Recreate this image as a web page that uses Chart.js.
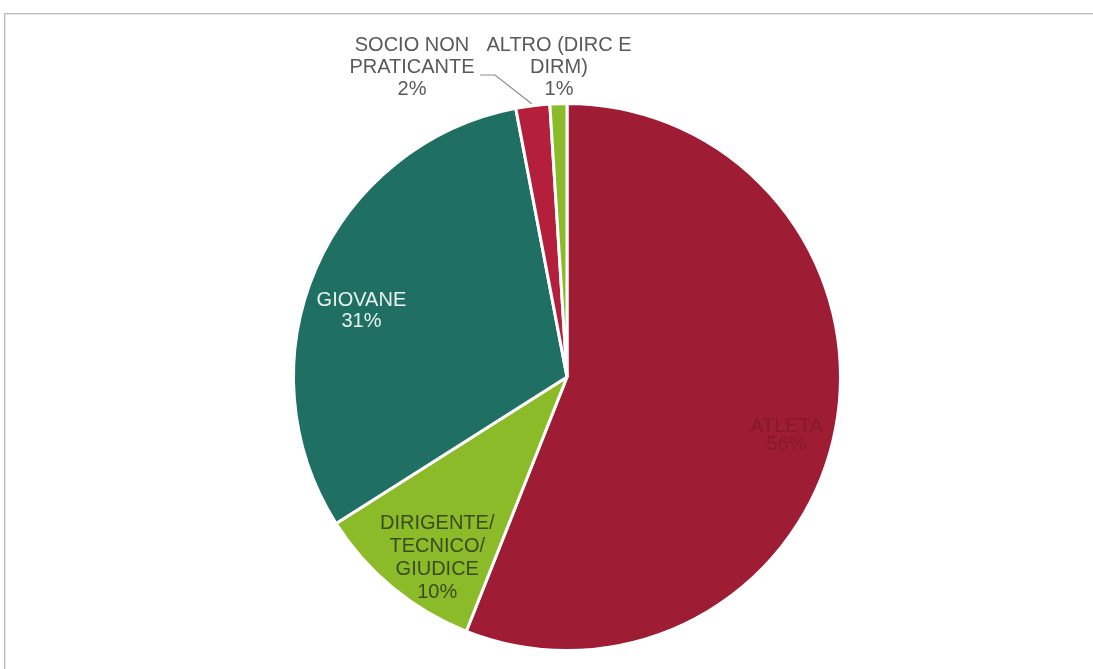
<!DOCTYPE html>
<html>
<head>
<meta charset="utf-8">
<script src="https://cdn.jsdelivr.net/npm/chart.js@4.4.0/dist/chart.umd.min.js"></script>
<style>
    html, body { margin: 0; padding: 0; background: #fff; }
    #wrap { position: relative; width: 1093px; height: 669px; }
    #frame {
        position: absolute; left: 4px; top: 13px; right: -2px; bottom: -2px;
        border: 1px solid #bdbdbd; border-right: none; border-bottom: none;
        box-shadow: inset 1px 1px 0 #e4e4e4;
    }
    canvas { position: absolute; left: 0; top: 0; }
</style>
</head>
<body>
<div id="wrap">
    <div id="frame"></div>
    <canvas id="chart" width="1093" height="669"></canvas>
</div>
<script>
// Dati del grafico
const categorie = ['ATLETA', 'DIRIGENTE/ TECNICO/ GIUDICE', 'GIOVANE', 'SOCIO NON PRATICANTE', 'ALTRO (DIRC E DIRM)'];
const percentuali = [56, 10, 31, 2, 1];
const righeEtichette = [
    ['ATLETA', '56%'],
    ['DIRIGENTE/', 'TECNICO/', 'GIUDICE', '10%'],
    ['GIOVANE', '31%'],
    ['SOCIO NON', 'PRATICANTE', '2%'],
    ['ALTRO (DIRC E', 'DIRM)', '1%']
];

const colori = ['#9e1c34', '#8cbb2a', '#1f6f63', '#b41f3c', '#8cbb2a'];

// come disegnare ogni etichetta: dentro (angolo/raggio) o fuori (offset dal centro)
const stileEtichette = [
    { dentro: true, dAng: 4, fr: 0.83, lh: 18, colore: '#861a2d' },
    { dentro: true, dAng: -4, fr: 0.815, lh: 23, colore: '#3c4a1c' },
    { dentro: true, dAng: -5.5, fr: 0.79, lh: 21, colore: '#e9f2ef' },
    { dentro: false, dx: -155, dy: -310, lh: 22, colore: '#595959' },
    { dentro: false, dx: -8, dy: -310, lh: 22, colore: '#595959' }
];

const etichettePlugin = {
    id: 'etichette',
    afterDatasetsDraw(chart) {
        const ctx = chart.ctx;
        const meta = chart.getDatasetMeta(0);
        ctx.save();
        ctx.font = '20px "Liberation Sans", Arial, sans-serif';
        ctx.textAlign = 'center';
        ctx.textBaseline = 'middle';
        meta.data.forEach((arc, i) => {
            const p = arc.getProps(['x', 'y', 'startAngle', 'endAngle', 'outerRadius'], true);
            const st = stileEtichette[i];
            const righe = righeEtichette[i];
            let cx, cy;
            if (st.dentro) {
                const mid = (p.startAngle + p.endAngle) / 2 + st.dAng * Math.PI / 180;
                const r = p.outerRadius * st.fr;
                cx = p.x + Math.cos(mid) * r;
                cy = p.y + Math.sin(mid) * r;
            } else {
                cx = p.x + st.dx;
                cy = p.y + st.dy;
            }
            ctx.fillStyle = st.colore;
            const y0 = cy - (righe.length - 1) * st.lh / 2;
            righe.forEach((t, k) => ctx.fillText(t, cx, y0 + k * st.lh));

            // linea guida per SOCIO NON PRATICANTE
            if (i === 3) {
                const mid = (p.startAngle + p.endAngle) / 2;
                const ex = p.x + Math.cos(mid) * p.outerRadius;
                const ey = p.y + Math.sin(mid) * p.outerRadius;
                ctx.strokeStyle = '#8c8c8c';
                ctx.lineWidth = 1.2;
                ctx.beginPath();
                ctx.moveTo(cx + 68, cy + 8);
                ctx.lineTo(cx + 83, cy + 8);
                ctx.lineTo(ex - 1, ey - 2);
                ctx.stroke();
            }
        });
        ctx.restore();
    }
};

new Chart(document.getElementById('chart'), {
    type: 'pie',
    data: {
        labels: categorie,
        datasets: [{
            data: percentuali,
            backgroundColor: colori,
            borderColor: '#ffffff',
            borderWidth: 3
        }]
    },
    options: {
        responsive: false,
        animation: false,
        layout: { padding: { left: 292, right: 251, top: 101, bottom: 16 } },
        plugins: {
            legend: { display: false },
            tooltip: { enabled: false }
        }
    },
    plugins: [etichettePlugin]
});
</script>
</body>
</html>
